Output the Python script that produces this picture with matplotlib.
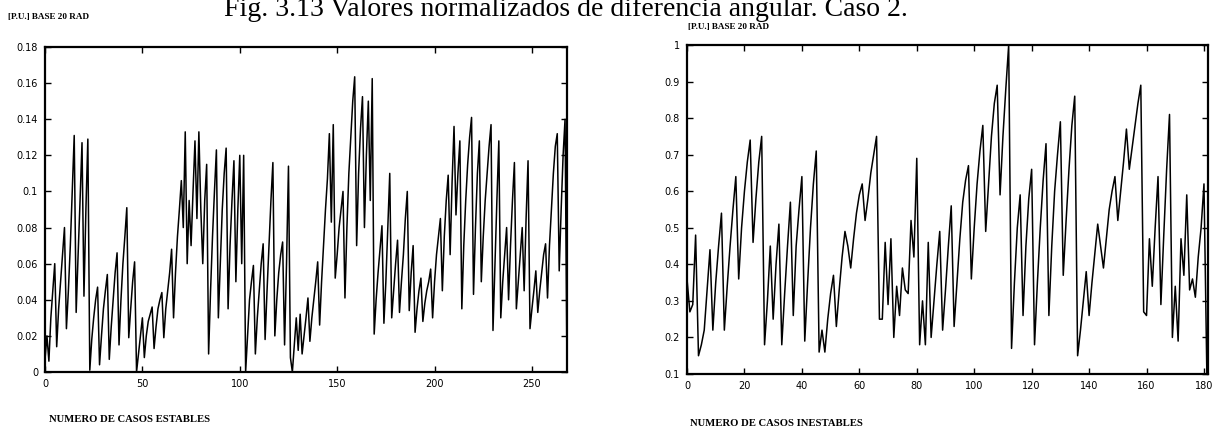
import numpy as np
import matplotlib
matplotlib.use("Agg")
import matplotlib.pyplot as plt

# Normalised angular difference, stable cases (p.u., base 20 rad)
estables = [
    0.007, 0.020, 0.006, 0.030, 0.045, 0.060, 0.014, 0.035, 0.050, 0.065,
    0.080, 0.024, 0.045, 0.070, 0.100, 0.131, 0.033, 0.065, 0.095, 0.127,
    0.042, 0.090, 0.129, 0.001, 0.018, 0.030, 0.040, 0.047, 0.004, 0.020,
    0.035, 0.045, 0.054, 0.007, 0.025, 0.040, 0.055, 0.066, 0.015, 0.040,
    0.060, 0.075, 0.091, 0.019, 0.035, 0.050, 0.061, 0.000, 0.010, 0.020,
    0.030, 0.008, 0.020, 0.028, 0.032, 0.036, 0.013, 0.025, 0.035, 0.040,
    0.044, 0.019, 0.035, 0.045, 0.055, 0.068, 0.030, 0.055, 0.075, 0.090,
    0.106, 0.080, 0.133, 0.060, 0.095, 0.070, 0.100, 0.128, 0.085, 0.133,
    0.090, 0.060, 0.095, 0.115, 0.010, 0.045, 0.075, 0.100, 0.123, 0.030,
    0.060, 0.090, 0.110, 0.124, 0.035, 0.070, 0.095, 0.117, 0.050, 0.090,
    0.120, 0.060, 0.120, 0.000, 0.020, 0.040, 0.050, 0.059, 0.010, 0.030,
    0.045, 0.060, 0.071, 0.018, 0.045, 0.070, 0.095, 0.116, 0.020, 0.040,
    0.055, 0.065, 0.072, 0.015, 0.060, 0.114, 0.008, 0.000, 0.015, 0.030,
    0.012, 0.032, 0.010, 0.020, 0.030, 0.041, 0.017, 0.030, 0.040, 0.050,
    0.061, 0.026, 0.050, 0.070, 0.090, 0.107, 0.132, 0.083, 0.137, 0.052,
    0.065, 0.080, 0.090, 0.100, 0.041, 0.080, 0.110, 0.130, 0.150, 0.1635,
    0.070, 0.110, 0.135, 0.1525, 0.080, 0.120, 0.150, 0.095, 0.1625, 0.021,
    0.040, 0.055, 0.068, 0.081, 0.027, 0.050, 0.080, 0.110, 0.030, 0.045,
    0.060, 0.073, 0.033, 0.050, 0.065, 0.085, 0.100, 0.034, 0.055, 0.070,
    0.022, 0.035, 0.045, 0.052, 0.028, 0.038, 0.045, 0.050, 0.057, 0.030,
    0.050, 0.065, 0.075, 0.085, 0.045, 0.075, 0.095, 0.109, 0.065, 0.105,
    0.136, 0.087, 0.110, 0.128, 0.035, 0.070, 0.095, 0.115, 0.130, 0.141,
    0.043, 0.080, 0.110, 0.128, 0.050, 0.075, 0.095, 0.110, 0.125, 0.137,
    0.023, 0.060, 0.095, 0.128, 0.030, 0.050, 0.065, 0.080, 0.040, 0.070,
    0.095, 0.116, 0.035, 0.050, 0.065, 0.080, 0.045, 0.085, 0.117, 0.024,
    0.035, 0.045, 0.056, 0.033, 0.045, 0.055, 0.065, 0.071, 0.041, 0.070,
    0.090, 0.110, 0.125, 0.132, 0.056, 0.090, 0.120, 0.140, 0.000,
]

# Normalised angular difference, unstable cases (p.u., base 20 rad)
inestables = [
    0.36, 0.27, 0.29, 0.48, 0.15, 0.18, 0.22, 0.33, 0.44, 0.22,
    0.35, 0.45, 0.54, 0.22, 0.34, 0.45, 0.55, 0.64, 0.36, 0.50,
    0.60, 0.68, 0.74, 0.46, 0.58, 0.68, 0.75, 0.18, 0.30, 0.45,
    0.25, 0.40, 0.51, 0.18, 0.32, 0.45, 0.57, 0.26, 0.45, 0.55,
    0.64, 0.19, 0.35, 0.50, 0.62, 0.71, 0.16, 0.22, 0.16, 0.25,
    0.32, 0.37, 0.23, 0.33, 0.42, 0.49, 0.45, 0.39, 0.47, 0.54,
    0.59, 0.62, 0.52, 0.58, 0.65, 0.70, 0.75, 0.25, 0.25, 0.46,
    0.29, 0.47, 0.20, 0.34, 0.26, 0.39, 0.33, 0.32, 0.52, 0.42,
    0.69, 0.18, 0.30, 0.18, 0.46, 0.20, 0.30, 0.40, 0.49, 0.22,
    0.33, 0.45, 0.56, 0.23, 0.35, 0.47, 0.57, 0.63, 0.67, 0.36,
    0.50, 0.62, 0.71, 0.78, 0.49, 0.62, 0.75, 0.84, 0.89, 0.59,
    0.75, 0.88, 1.00, 0.17, 0.35, 0.50, 0.59, 0.26, 0.45, 0.58,
    0.66, 0.18, 0.35, 0.50, 0.63, 0.73, 0.26, 0.45, 0.60, 0.70,
    0.79, 0.37, 0.52, 0.66, 0.78, 0.86, 0.15, 0.22, 0.30, 0.38,
    0.26, 0.35, 0.43, 0.51, 0.45, 0.39, 0.47, 0.55, 0.60, 0.64,
    0.52, 0.60, 0.68, 0.77, 0.66, 0.72, 0.78, 0.84, 0.89, 0.27,
    0.26, 0.47, 0.34, 0.50, 0.64, 0.29, 0.48, 0.66, 0.81, 0.20,
    0.34, 0.19, 0.47, 0.37, 0.59, 0.33, 0.36, 0.31, 0.42, 0.50,
    0.62, 0.10,
]

left_xticks = [0, 50, 100, 150, 200, 250]
left_yticks = [0, 0.02, 0.04, 0.06, 0.08, 0.1, 0.12, 0.14, 0.16, 0.18]
left_ylabels = ["0", "0.02", "0.04", "0.06", "0.08", "0.1", "0.12", "0.14", "0.16", "0.18"]
right_xticks = [0, 20, 40, 60, 80, 100, 120, 140, 160, 180]
right_yticks = [0.1, 0.2, 0.3, 0.4, 0.5, 0.6, 0.7, 0.8, 0.9, 1.0]
right_ylabels = ["0.1", "0.2", "0.3", "0.4", "0.5", "0.6", "0.7", "0.8", "0.9", "1"]

title = "Fig. 3.13 Valores normalizados de diferencia angular. Caso 2."
unit_label = "[P.U.] BASE 20 RAD"
xlabel_left = "NUMERO DE CASOS ESTABLES"
xlabel_right = "NUMERO DE CASOS INESTABLES"

W, H = 1215, 434
fig = plt.figure(figsize=(W / 100, H / 100), dpi=100)
fig.patch.set_facecolor("white")


def px_axes(x0, y0, x1, y1):
    return fig.add_axes([x0 / W, 1 - y1 / H, (x1 - x0) / W, (y1 - y0) / H])


def style(ax, xticks, yticks, ylabels):
    ax.set_xticks(xticks)
    ax.set_xticklabels([str(t) for t in xticks])
    ax.set_yticks(yticks)
    ax.set_yticklabels(ylabels)
    ax.tick_params(direction="in", length=4, width=1.0, top=True, right=True,
                   labelsize=7, pad=5, colors="black")
    for s in ax.spines.values():
        s.set_linewidth(1.6)
        s.set_color("black")


ax1 = px_axes(45, 47, 567, 372)
x1 = np.arange(len(estables))
ax1.plot(x1, estables, color="black", lw=1.1)
ax1.set_xlim(0, len(estables) - 1)
ax1.set_ylim(0, 0.18)
style(ax1, left_xticks, left_yticks, left_ylabels)

ax2 = px_axes(687, 45, 1208, 374)
x2 = np.arange(len(inestables))
ax2.plot(x2, inestables, color="black", lw=1.1)
ax2.set_xlim(0, len(inestables) - 0.6)
ax2.set_ylim(0.1, 1.0)
style(ax2, right_xticks, right_yticks, right_ylabels)

# Figure caption sits at the very top edge, partly outside the canvas
fig.text(566 / W, 1 - 16 / H, title, fontsize=20, family="Liberation Serif",
         ha="center", va="baseline")
lab = dict(family="Liberation Serif", weight="bold", va="center", ha="left")
fig.text(8 / W, 1 - 17 / H, unit_label, fontsize=6.6, **lab)
fig.text(688 / W, 1 - 27 / H, unit_label, fontsize=6.6, **lab)
fig.text(49 / W, 1 - 420 / H, xlabel_left, fontsize=7.7, **lab)
fig.text(690 / W, 1 - 423 / H, xlabel_right, fontsize=7.7, **lab)

fig.savefig("out.png", dpi=100, facecolor="white")
